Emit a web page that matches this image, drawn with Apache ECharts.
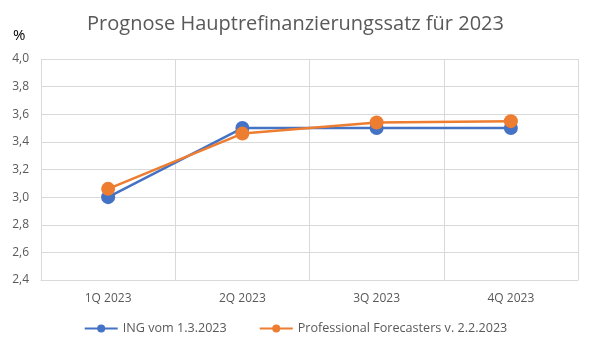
<!DOCTYPE html>
<html><head><meta charset="utf-8">
<script src="https://cdn.jsdelivr.net/npm/echarts@6/dist/echarts.min.js"></script>
<style>html,body{margin:0;padding:0;background:#fff}#c{width:591px;height:355px}</style>
</head><body><div id="c"></div>
<script>
const categories = ['1Q 2023', '2Q 2023', '3Q 2023', '4Q 2023'];
const ingValues = [3.0, 3.5, 3.5, 3.5];
const pfValues = [3.06, 3.46, 3.54, 3.55];
const seriesNames = ['ING vom 1.3.2023', 'Professional Forecasters v. 2.2.2023'];
const titleText = 'Prognose Hauptrefinanzierungssatz für 2023';

const font = 'Open Sans';
const chart = echarts.init(document.getElementById('c'), null, {renderer: 'canvas'});
chart.setOption({
  animation: false,
  textStyle: {fontFamily: font},
  title: {text: titleText, left: 'center', top: 9,
    textStyle: {fontFamily: font, fontSize: 20, fontWeight: 'normal', color: '#595959'}},
  graphic: [{type: 'text', left: 13, top: 28, style: {text: '%', fontFamily: font, fontSize: 15, fill: '#000'}}],
  legend: {bottom: 15, left: 'center', itemGap: 32, itemWidth: 33, itemHeight: 10,
    textStyle: {fontFamily: font, fontSize: 12.6, color: '#595959'},
    data: seriesNames},
  grid: {left: 41, right: 13, top: 59, bottom: 75, containLabel: false},
  xAxis: {type: 'category', data: categories, boundaryGap: true,
    axisLine: {lineStyle: {color: '#D9D9D9'}}, axisTick: {show: false},
    splitLine: {show: true, lineStyle: {color: '#D9D9D9'}},
    axisLabel: {color: '#595959', fontSize: 12, margin: 13, fontFamily: font}},
  yAxis: {type: 'value', min: 2.4, max: 4.0, interval: 0.2,
    axisLine: {show: false}, axisTick: {show: false},
    splitLine: {lineStyle: {color: '#D9D9D9'}},
    axisLabel: {color: '#595959', fontSize: 12, margin: 12, fontFamily: font,
      formatter: v => v.toFixed(1).replace('.', ',')}},
  series: [
    {name: seriesNames[0], type: 'line', data: ingValues, symbol: 'circle', symbolSize: 14,
      lineStyle: {color: '#4472C4', width: 2.5}, itemStyle: {color: '#4472C4'}},
    {name: seriesNames[1], type: 'line', data: pfValues, symbol: 'circle', symbolSize: 14,
      lineStyle: {color: '#ED7D31', width: 2.5}, itemStyle: {color: '#ED7D31'}}
  ]
});
</script></body></html>
